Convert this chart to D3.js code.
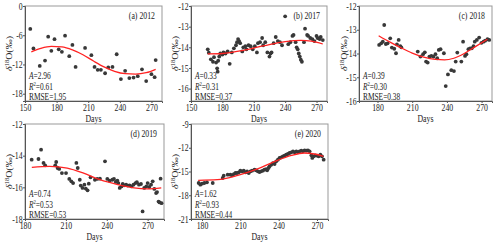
<!DOCTYPE html>
<html>
<head>
<meta charset="utf-8">
<script src="https://cdn.jsdelivr.net/npm/d3@7"></script>
<style>
  html, body { margin: 0; padding: 0; background: #fff; }
  svg text { font-family: "Liberation Serif", "DejaVu Serif", serif; fill: #222; }
</style>
</head>
<body>
<svg id="chart" width="500" height="243"></svg>
<script>
// ---- data ----
const days2012 = [155, 158, 164, 169, 172, 175, 178, 182, 185, 188, 192, 195, 198, 207, 213, 216, 219, 222, 226, 229, 233, 237, 241, 245, 249, 253, 257, 261, 265, 270, 273, 274];
const d18O2012 = [-4.7, -8.7, -12.3, -11.2, -6.3, -9.2, -6.8, -8.9, -9.4, -6.1, -10.3, -8.0, -12.5, -8.6, -10.1, -12.5, -13.1, -13.1, -13.8, -12.6, -12.5, -9.9, -15.0, -13.3, -14.8, -14.7, -14.4, -13.0, -15.4, -14.0, -14.6, -11.1];
const fitDays2012 = [156, 165, 175, 185, 195, 205, 215, 225, 235, 245, 255, 265, 274];
const fit2012 = [-9.4, -8.7, -8.3, -8.4, -9.0, -10.0, -11.3, -12.5, -13.4, -13.9, -14.0, -13.7, -13.0];

const days2017 = [166, 167, 169, 171, 172, 174, 175, 175.5, 176, 177, 178, 180, 181, 183, 185, 187, 189, 191, 193, 194, 195, 196, 197, 199, 200, 202, 203, 205, 207, 209, 211, 213, 214, 216, 218, 219, 221, 223, 225, 226, 227, 229, 231, 233, 235, 237, 240, 243, 245, 247, 248, 250, 251, 252, 253, 254, 255, 256, 258, 259, 261, 262, 264, 266, 268, 270, 271, 273, 274, 276];
const d18O2017 = [-14.1, -14.26, -14.58, -14.7, -14.48, -14.74, -15.02, -15.18, -14.65, -14.45, -14.3, -14.35, -14.25, -14.3, -14.2, -14.8, -14.25, -14.05, -13.9, -13.75, -13.6, -13.7, -13.8, -14.2, -14.0, -13.95, -14.1, -13.9, -13.95, -14.1, -13.95, -14.25, -13.8, -13.75, -13.55, -13.9, -13.75, -14.25, -14.45, -14.3, -14.25, -13.8, -13.5, -13.7, -13.75, -13.9, -12.5, -13.85, -13.75, -13.45, -13.4, -13.75, -14.0, -14.1, -14.3, -14.45, -14.6, -14.7, -13.75, -13.1, -13.4, -13.45, -13.55, -13.6, -13.7, -13.45, -13.55, -13.6, -13.5, -13.65];
const fitDays2017 = [166, 180, 200, 220, 240, 255, 265, 276];
const fit2017 = [-14.32, -14.3, -14.15, -13.92, -13.72, -13.66, -13.7, -13.84];

const days2018 = [181.4, 183.2, 184.6, 185.8, 187.2, 188.7, 191, 192.4, 194.5, 196, 196.8, 198.3, 199.7, 200.6, 214.8, 217.1, 219.4, 220.9, 222, 223.4, 224.9, 226.6, 228.4, 230.1, 231.6, 233, 234.5, 237.4, 239, 240.9, 243.8, 246.1, 247.6, 249, 252.5, 254, 255.7, 256.9, 258.6, 260.1, 261.5, 263, 264.1, 265.9, 267.9, 269.9, 271.7, 273.1, 275.1, 276.6];
const d18O2018 = [-13.64, -13.57, -13.5, -12.8, -13.6, -13.57, -13.36, -13.75, -13.8, -13.99, -13.62, -13.43, -13.69, -13.74, -13.92, -14.13, -14.03, -13.95, -14.34, -14.38, -14.13, -14.1, -14.13, -14.03, -14.2, -13.85, -13.82, -13.99, -15.37, -14.88, -14.7, -14.74, -14.34, -13.96, -14.34, -13.5, -14.1, -14.03, -13.82, -13.78, -13.78, -13.69, -13.5, -13.43, -13.33, -13.55, -13.5, -13.46, -13.4, -13.43];
const fitDays2018 = [181, 190, 200, 210, 220, 230, 238, 246, 255, 265, 275];
const fit2018 = [-13.25, -13.5, -13.75, -13.98, -14.15, -14.25, -14.27, -14.2, -14.0, -13.7, -13.4];

const days2019 = [184.9, 189.9, 191.8, 193.6, 194.8, 202.2, 202.9, 203.9, 205.1, 207.1, 210.1, 212.5, 214, 215.3, 217.7, 218.7, 220.2, 220.9, 222.2, 223.6, 224.6, 225.9, 226.8, 228.1, 231.3, 233, 235, 238.7, 240.4, 242.1, 244.1, 245.3, 246.6, 247.8, 248.5, 249.5, 250.8, 251.7, 252.7, 254.2, 255.4, 256.7, 258.2, 259.6, 261.1, 262.1, 263.6, 265.1, 266.3, 267.5, 269, 270, 271.2, 272.5, 273.7, 274.9, 276.2, 276.9, 278, 278.8, 279.5, 280.2];
const d18O2019 = [-14.25, -14.21, -13.62, -14.46, -14.61, -14.61, -14.4, -14.78, -14.84, -15.1, -15.1, -15.47, -15.62, -15.73, -14.46, -14.78, -15.52, -15.89, -16.04, -15.83, -16.08, -16.19, -15.77, -15.37, -15.52, -15.47, -15.45, -14.36, -15.47, -15.58, -15.52, -15.47, -15.66, -15.58, -15.73, -16.04, -15.94, -15.79, -15.87, -15.83, -15.89, -15.87, -15.94, -15.83, -15.73, -15.68, -15.83, -15.79, -17.52, -16.04, -15.94, -15.73, -15.98, -15.83, -15.62, -16.1, -16.36, -16.3, -16.9, -16.95, -15.45, -17.0];
const fitDays2019 = [185, 198, 211, 223, 235, 248, 260, 270, 280];
const fit2019 = [-14.74, -14.67, -14.78, -15.1, -15.52, -15.83, -16.04, -16.1, -16.04];

const days2020 = [177.4, 178.7, 180, 181.8, 183.9, 188.4, 196.2, 197, 200.1, 202.2, 203.5, 204.9, 206.2, 207.5, 208.8, 210, 211.4, 212.7, 214, 215.3, 216.6, 217.9, 219.2, 221.1, 222.4, 223.7, 225, 226.3, 227.6, 228.9, 230.2, 231, 232.1, 232.9, 234.2, 235.5, 236.8, 238.1, 239.4, 240.7, 242, 243.3, 244.6, 245.9, 247.2, 248.5, 249.9, 251.2, 252.5, 253.8, 255.1, 256.4, 257.7, 259, 260.3, 261.6, 262.9, 264.2, 265.6, 266.3, 267.4, 268.7, 270, 271.3, 272.6, 273.9, 275.2];
const d18O2020 = [-16.45, -16.66, -16.54, -16.45, -16.37, -16.45, -15.82, -15.53, -15.4, -15.4, -15.48, -15.32, -15.19, -15.19, -15.1, -14.9, -14.98, -14.9, -15.1, -15.0, -15.19, -14.98, -14.9, -14.77, -14.85, -14.98, -15.06, -14.98, -14.9, -14.77, -14.69, -14.85, -14.56, -14.35, -14.14, -13.93, -14.05, -13.72, -13.5, -13.29, -13.21, -13.08, -13.0, -12.87, -12.79, -12.66, -12.58, -12.45, -12.58, -12.45, -12.58, -12.45, -12.37, -12.45, -12.33, -12.37, -12.33, -12.45, -12.96, -13.29, -13.08, -12.96, -13.0, -13.08, -12.87, -13.08, -13.5];
const fitDays2020 = [177, 192, 208, 224, 237, 250, 260, 268, 275];
const fit2020 = [-16.11, -16.03, -15.48, -14.64, -13.72, -12.96, -12.66, -12.79, -13.08];

const titles = ["(a) 2012", "(b) 2017", "(c) 2018", "(d) 2019", "(e) 2020"];
const statA = ["2.96", "0.33", "0.39", "0.74", "1.62"];
const statR2 = ["0.61", "0.31", "0.30", "0.53", "0.93"];
const statRMSE = ["1.95", "0.37", "0.38", "0.53", "0.44"];
const xTicks = [[150, 180, 210, 240, 270], [150, 180, 210, 240, 270], [180, 210, 240, 270], [180, 210, 240, 270], [180, 210, 240, 270]];
const yTicks = [[0, -6, -12, -18], [-12, -13, -14, -15, -16], [-12, -13, -14, -15, -16], [-12, -14, -16, -18], [-9, -12, -15, -18, -21]];

// ---- layout ----
const panels = [
  {x0: 25, x1: 162, y0: 6, y1: 101, xd: [150, 280], yd: [-19.5, 0], days: days2012, vals: d18O2012, fd: fitDays2012, fv: fit2012},
  {x0: 191, x1: 327, y0: 6, y1: 101, xd: [150, 280], yd: [-16.6, -12], days: days2017, vals: d18O2017, fd: fitDays2017, fv: fit2017},
  {x0: 359, x1: 492, y0: 6, y1: 101, xd: [164, 279], yd: [-16, -12], days: days2018, vals: d18O2018, fd: fitDays2018, fv: fit2018},
  {x0: 25, x1: 164, y0: 124, y1: 219, xd: [180, 282], yd: [-18, -12], days: days2019, vals: d18O2019, fd: fitDays2019, fv: fit2019},
  {x0: 191, x1: 328, y0: 124, y1: 219, xd: [171.4, 278.6], yd: [-21, -9], days: days2020, vals: d18O2020, fd: fitDays2020, fv: fit2020}
];

const SQ = 0.78; // the figure is squeezed horizontally, so is its text

const svg = d3.select("#chart");

function label(g, x, y, size, anchor) {
  return g.append("text")
    .attr("transform", `translate(${x},${y}) scale(${SQ},1)`)
    .attr("text-anchor", anchor || "start")
    .attr("font-size", size);
}

panels.forEach((p, i) => {
  const x = d3.scaleLinear().domain(p.xd).range([p.x0, p.x1]);
  const y = d3.scaleLinear().domain(p.yd).range([p.y1, p.y0]);
  const g = svg.append("g");

  // frame
  g.append("rect")
    .attr("x", p.x0).attr("y", p.y0)
    .attr("width", p.x1 - p.x0).attr("height", p.y1 - p.y0)
    .attr("fill", "none").attr("stroke", "#999").attr("stroke-width", 1);

  // axes
  const xa = g.append("g")
    .attr("transform", `translate(0,${p.y1})`)
    .call(d3.axisBottom(x).tickValues(xTicks[i]).tickSize(2).tickPadding(1));
  const ya = g.append("g")
    .attr("transform", `translate(${p.x0},0)`)
    .call(d3.axisLeft(y).tickValues(yTicks[i]).tickSize(2).tickPadding(1).tickFormat(d => d));
  [xa, ya].forEach(a => {
    a.select(".domain").attr("stroke", "#555");
    a.selectAll(".tick line").attr("stroke", "#555");
    a.selectAll("text")
      .attr("font-size", 10)
      .attr("transform", `scale(${SQ},1)`)
      .style("font-family", "Liberation Serif, serif")
      .attr("fill", "#222");
  });

  // points
  g.selectAll("circle")
    .data(p.days.map((d, k) => [d, p.vals[k]]))
    .enter().append("circle")
    .attr("cx", d => x(d[0]))
    .attr("cy", d => y(d[1]))
    .attr("r", 1.9)
    .attr("fill", "#383838");

  // fitted curve
  const line = d3.line()
    .x(d => x(d[0]))
    .y(d => y(d[1]))
    .curve(d3.curveMonotoneX);
  g.append("path")
    .datum(p.fd.map((d, k) => [d, p.fv[k]]))
    .attr("fill", "none")
    .attr("stroke", "#f22")
    .attr("stroke-width", 1.3)
    .attr("d", line);

  // panel title
  label(g, p.x1 - 7, p.y0 + 12.5, 10, "end").text(titles[i]);

  // stats
  const sx = p.x0 + 4;
  const ta = label(g, sx, p.y1 - 22.5, 9.5);
  ta.append("tspan").attr("font-style", "italic").text("A");
  ta.append("tspan").text("=" + statA[i]);
  const tr = label(g, sx, p.y1 - 11.5, 9.5);
  tr.append("tspan").attr("font-style", "italic").text("R");
  tr.append("tspan").attr("font-size", 6).attr("dy", -3.5).text("2");
  tr.append("tspan").attr("dy", 3.5).text("=" + statR2[i]);
  label(g, sx, p.y1 - 1.5, 9.5).text("RMSE=" + statRMSE[i]);

  // x label
  label(g, (p.x0 + p.x1) / 2, p.y1 + 20.5, 10, "middle").text("Days");

  // y label
  const cy = (p.y0 + p.y1) / 2;
  const lx = p.x0 - (i === 2 ? 12 : 13);
  const yl = g.append("text")
    .attr("transform", `translate(${lx},${cy}) rotate(-90) scale(1,${SQ})`)
    .attr("text-anchor", "middle")
    .attr("font-size", 10);
  yl.append("tspan").attr("font-style", "italic").text("δ");
  yl.append("tspan").attr("font-size", 6.5).attr("dy", -3.8).text("18");
  yl.append("tspan").attr("dy", 3.8).text("O(‰)");
});
</script>
</body>
</html>
